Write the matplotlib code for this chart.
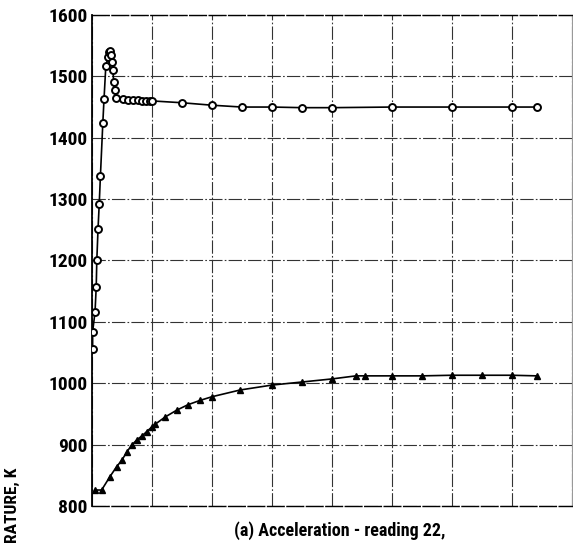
import numpy as np
import matplotlib
matplotlib.use("Agg")
import matplotlib.pyplot as plt
from matplotlib import font_manager

# circle series (x in grid divisions, temperature in K)
circ_x = [0.01, 0.01, 0.05, 0.07, 0.08, 0.10, 0.12, 0.14, 0.18, 0.20,
          0.23, 0.27, 0.28, 0.30, 0.32, 0.33, 0.35, 0.36, 0.375, 0.40,
          0.52, 0.60, 0.68, 0.77, 0.83, 0.90, 0.97, 1.0,
          1.5, 2.0, 2.5, 3.0, 3.5, 4.0, 5.0, 6.0, 7.0, 7.42]
circ_y = [1056, 1084, 1116, 1157, 1201, 1251, 1292, 1338, 1424, 1463,
          1517, 1532, 1540, 1541, 1535, 1523, 1510, 1491, 1478, 1465,
          1463, 1462, 1461, 1461, 1460, 1460, 1460, 1460,
          1457, 1453, 1450, 1450, 1449, 1449, 1450, 1450, 1450, 1450]

# triangle series
tri_x = [0.05, 0.16, 0.30, 0.41, 0.50, 0.58, 0.66, 0.75, 0.83, 0.91,
         1.0, 1.05, 1.22, 1.41, 1.6, 1.8, 2.0, 2.47, 3.0, 3.5, 4.0,
         4.4, 4.55, 5.0, 5.5, 6.0, 6.5, 7.0, 7.42]
tri_y = [826, 826, 848, 864, 875, 888, 899, 908, 914, 921,
         929, 933, 945, 956, 965, 972, 978, 989, 997, 1002, 1007,
         1012, 1012, 1012, 1012, 1013, 1013, 1013, 1012]

yticks = [800, 900, 1000, 1100, 1200, 1300, 1400, 1500, 1600]

# pick a narrow bold face if one is there
names = {f.name for f in font_manager.fontManager.ttflist}
fnt = 'DejaVu Sans'
for cand in ['Liberation Sans Narrow', 'Roboto Condensed', 'Open Sans Condensed',
             'DejaVu Sans Condensed']:
    if cand in names:
        fnt = cand
        break

fig = plt.figure(figsize=(5.73, 5.45), dpi=100)
ax = fig.add_axes([0.1606, 0.0716, 0.8374, 0.9009])

ax.plot(circ_x, circ_y, color='black', lw=1.2, marker='o', ms=5,
        mfc='white', mec='black', mew=1.4, zorder=3)
ax.plot(tri_x, tri_y, color='black', lw=1.2, marker='^', ms=4.5,
        mfc='black', mec='black', zorder=3)

ax.set_xlim(0, 8)
ax.set_ylim(800, 1600)
ax.set_xticks(np.arange(0, 9, 1))
ax.set_yticks(yticks)
ax.set_xticklabels([])
ax.set_yticklabels([str(v) for v in yticks], family=fnt, stretch='condensed',
                   fontweight='bold', fontsize=14)
ax.tick_params(axis='both', length=0, pad=3)
ax.grid(True, color='#333333', lw=0.8, ls=(0, (12, 2, 1.5, 2)))

for s in ['top', 'bottom']:
    ax.spines[s].set_linestyle((0, (12, 2)))
    ax.spines[s].set_linewidth(1.0)
ax.spines['left'].set_linewidth(1.3)
ax.spines['right'].set_color('#999999')

fig.text(0.022, 0.003, 'RATURE, K', rotation=90, family=fnt, stretch='condensed',
         fontweight='bold', fontsize=12.5, ha='center', va='bottom')
fig.text(0.593, 0.027, '(a) Acceleration - reading 22,', family=fnt,
         stretch='condensed', fontweight='bold', fontsize=13,
         ha='center', va='center')

fig.savefig('out.png', dpi=100)
